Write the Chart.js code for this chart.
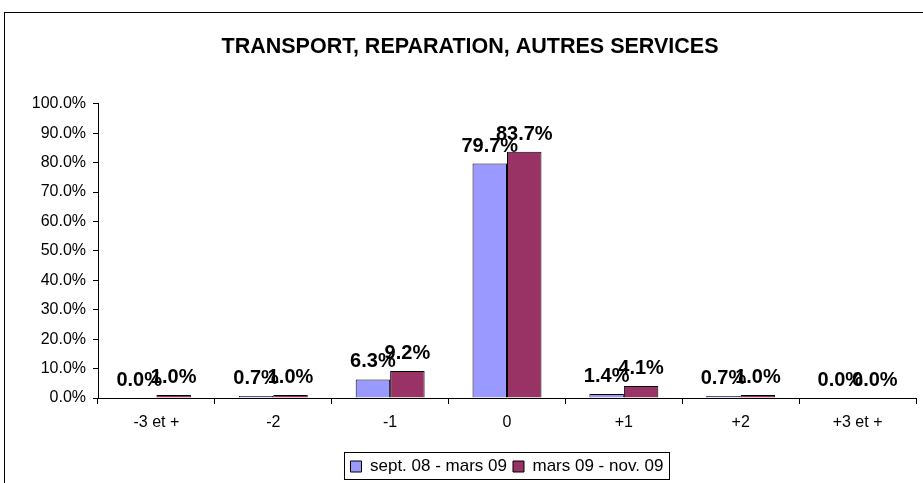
<!DOCTYPE html>
<html>
<head>
<meta charset="utf-8">
<script src="https://cdn.jsdelivr.net/npm/chart.js@4/dist/chart.umd.min.js"></script>
<style>
html,body{margin:0;padding:0;background:#fff;}
#wrap{position:relative;width:923px;height:483px;}
</style>
</head>
<body>
<div id="wrap"><canvas id="c" width="923" height="483"></canvas></div>
<script>
const chartTitle = 'TRANSPORT, REPARATION, AUTRES SERVICES';
const categories = ['-3 et +', '-2', '-1', '0', '+1', '+2', '+3 et +'];
const seriesNames = ['sept. 08 - mars 09', 'mars 09 - nov. 09'];
const series1 = [0.0, 0.7, 6.3, 79.7, 1.4, 0.7, 0.0];
const series2 = [1.0, 1.0, 9.2, 83.7, 4.1, 1.0, 0.0];
const yMin = 0, yMax = 100, yStep = 10;

const FONT = 'Arial, "Liberation Sans", sans-serif';

const borderPlugin = {
  id: 'outerBorder',
  beforeDraw(chart) {
    const ctx = chart.ctx;
    ctx.save();
    ctx.fillStyle = '#fff';
    ctx.fillRect(0, 0, chart.width, chart.height);
    ctx.strokeStyle = '#000';
    ctx.lineWidth = 1;
    ctx.strokeRect(4.5, 12.5, 940, 500);
    ctx.restore();
  }
};

const layoutTweak = {
  id: 'layoutTweak',
  afterLayout(chart) {
    const tb = chart.titleBlock;
    if (tb) { tb.left += 8; tb.right += 8; }
  },
  afterDraw(chart) {
    const lg = chart.legend;
    if (!lg || !lg.legendHitBoxes || !lg.legendHitBoxes.length) return;
    const boxes = lg.legendHitBoxes;
    let l = Infinity, r = -Infinity, t = Infinity, b = -Infinity;
    boxes.forEach(h => { l = Math.min(l, h.left); r = Math.max(r, h.left + h.width); t = Math.min(t, h.top); b = Math.max(b, h.top + h.height); });
    const ctx = chart.ctx;
    ctx.save();
    ctx.strokeStyle = '#000';
    ctx.lineWidth = 1;
    ctx.strokeRect(Math.round(l - 6) + 0.5, Math.round(t - 6) + 0.5, Math.round(r - l + 12), Math.round(b - t + 10));
    ctx.restore();
  }
};

const labelPlugin = {
  id: 'valueLabels',
  afterDatasetsDraw(chart) {
    const ctx = chart.ctx;
    ctx.save();
    ctx.font = 'bold 20px ' + FONT;
    ctx.fillStyle = '#000';
    ctx.textAlign = 'center';
    ctx.textBaseline = 'alphabetic';
    chart.data.datasets.forEach((ds, di) => {
      const meta = chart.getDatasetMeta(di);
      meta.data.forEach((el, i) => {
        const v = ds.data[i];
        ctx.fillText(v.toFixed(1) + '%', el.x, el.y - 12);
      });
    });
    ctx.restore();
  }
};

new Chart(document.getElementById('c'), {
  type: 'bar',
  data: {
    labels: categories,
    datasets: [
      { label: seriesNames[0], data: series1, backgroundColor: '#9999FF', borderColor: '#000', borderWidth: 1, categoryPercentage: 0.59, barPercentage: 1.0 },
      { label: seriesNames[1], data: series2, backgroundColor: '#993366', borderColor: '#000', borderWidth: 1, categoryPercentage: 0.59, barPercentage: 1.0 }
    ]
  },
  options: {
    responsive: false,
    animation: false,
    devicePixelRatio: 1,
    layout: { padding: { left: 8, right: 7, top: 0, bottom: -2 } },
    plugins: {
      title: {
        display: true,
        text: chartTitle,
        color: '#000',
        font: { family: FONT, size: 21.5, weight: 'bold' },
        padding: { top: 34, bottom: 44 }
      },
      legend: {
        display: true,
        position: 'bottom',
        fullSize: false,
        labels: {
          color: '#000',
          font: { family: FONT, size: 17 },
          boxWidth: 11,
          boxHeight: 11,
          padding: 6,
          generateLabels(chart) {
            return chart.data.datasets.map((ds, i) => ({
              text: ds.label, fillStyle: ds.backgroundColor, strokeStyle: '#000', lineWidth: 1, datasetIndex: i, hidden: false
            }));
          }
        }
      },
      tooltip: { enabled: false }
    },
    scales: {
      x: {
        offset: true,
        grid: { display: true, offset: true, drawOnChartArea: false, drawTicks: true, tickLength: 6, color: '#000' },
        border: { display: true, color: '#000', width: 1 },
        ticks: { color: '#000', font: { family: FONT, size: 16 }, padding: 9, maxRotation: 0 },
        afterFit(scale) { scale.height = 54; }
      },
      y: {
        min: yMin, max: yMax,
        grid: { display: true, drawOnChartArea: false, drawTicks: true, tickLength: 5, color: '#000' },
        border: { display: true, color: '#000', width: 1 },
        ticks: { stepSize: yStep, color: '#000', font: { family: FONT, size: 16 }, padding: 7,
          callback: v => Number(v).toFixed(1) + '%' },
        afterFit(scale) { scale.width = 90; }
      }
    }
  },
  plugins: [borderPlugin, layoutTweak, labelPlugin]
});
</script>
</body>
</html>
